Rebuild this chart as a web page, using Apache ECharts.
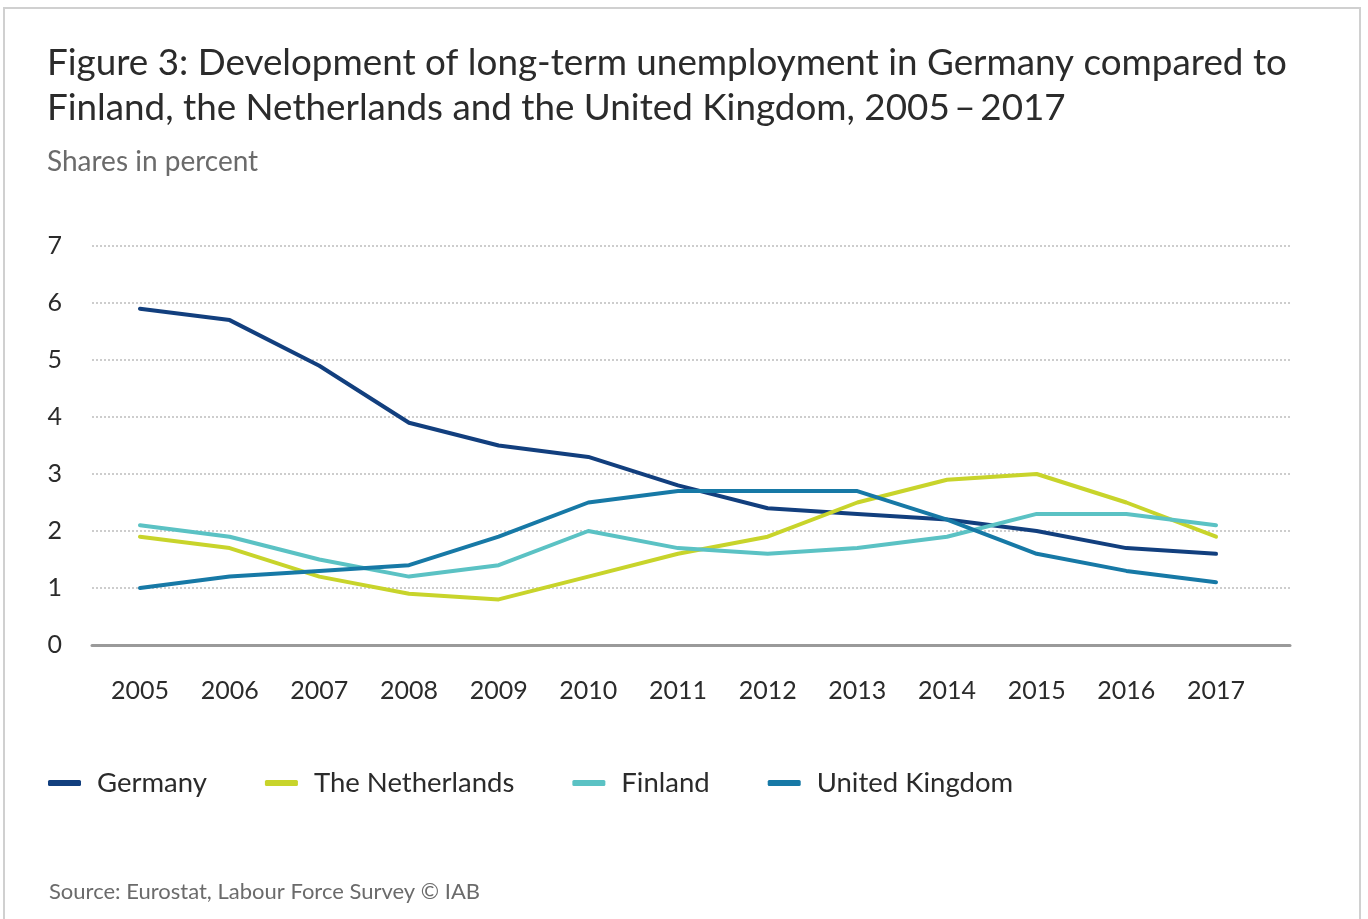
<!DOCTYPE html>
<html>
<head>
<meta charset="utf-8">
<script src="https://cdn.jsdelivr.net/npm/echarts@6/dist/echarts.min.js"></script>
<style>
  html, body { margin: 0; padding: 0; background: #fff; }
  #frame { position: absolute; left: 3px; top: 7px; width: 1358px; height: 930px; border: 2px solid #d0d0d0; box-sizing: border-box; }
  #chart { position: absolute; left: 0; top: 0; width: 1368px; height: 919px; }
</style>
</head>
<body>
<div id="frame"></div>
<div id="chart"></div>
<script>
// years on the x axis
var years = [2005, 2006, 2007, 2008, 2009, 2010, 2011, 2012, 2013, 2014, 2015, 2016, 2017];
// long-term unemployment, share in percent
var germany     = [5.9, 5.7, 4.9, 3.9, 3.5, 3.3, 2.8, 2.4, 2.3, 2.2, 2.0, 1.7, 1.6];
var netherlands = [1.9, 1.7, 1.2, 0.9, 0.8, 1.2, 1.6, 1.9, 2.5, 2.9, 3.0, 2.5, 1.9];
var finland     = [2.1, 1.9, 1.5, 1.2, 1.4, 2.0, 1.7, 1.6, 1.7, 1.9, 2.3, 2.3, 2.1];
var uk          = [1.0, 1.2, 1.3, 1.4, 1.9, 2.5, 2.7, 2.7, 2.7, 2.2, 1.6, 1.3, 1.1];
var yTicks = [0, 1, 2, 3, 4, 5, 6, 7];

var font = 'Lato, "Open Sans", sans-serif';

function pairs(vals) {
    return years.map(function (y, i) { return [y, vals[i]]; });
}

function line(name, vals, color) {
    return {
        name: name,
        type: 'line',
        data: pairs(vals),
        showSymbol: false,
        symbol: 'none',
        lineStyle: { color: color, width: 4, cap: 'round', join: 'round' },
        itemStyle: { color: color },
        emphasis: { disabled: true }
    };
}

var chart = echarts.init(document.getElementById('chart'));
chart.setOption({
    animation: false,
    title: [
        {
            text: 'Figure 3: Development of long-term unemployment in Germany compared to\nFinland, the Netherlands and the United Kingdom, 2005\u2009\u2013\u20092017',
            left: 42, top: 36,
            textStyle: { fontFamily: font, fontSize: 36.8, fontWeight: 'normal', color: '#2b2b2b', lineHeight: 45 }
        },
        {
            text: 'Shares in percent',
            left: 42, top: 143,
            textStyle: { fontFamily: font, fontSize: 28, fontWeight: 'normal', color: '#6b6b6b' }
        },
        {
            text: 'Source: Eurostat, Labour Force Survey \u00a9 IAB',
            left: 44, top: 876,
            textStyle: { fontFamily: font, fontSize: 22, fontWeight: 'normal', color: '#6b6b6b' }
        }
    ],
    legend: {
        left: 43, top: 764,
        icon: 'roundRect',
        itemWidth: 33, itemHeight: 6,
        itemGap: 58,
        textStyle: { fontFamily: font, fontSize: 27.5, color: '#2b2b2b', padding: [0, 0, 0, 11] },
        data: ['Germany', 'The Netherlands', 'Finland', 'United Kingdom']
    },
    grid: { left: 92, right: 78, top: 246, bottom: 274 },
    xAxis: {
        type: 'value',
        min: 2004.465,
        max: 2017.825,
        axisLine: { show: true, lineStyle: { color: '#9a9a9a', width: 3 } },
        axisTick: { show: false },
        splitLine: { show: false },
        axisLabel: {
            customValues: years,
            margin: 33,
            fontFamily: font, fontSize: 25, color: '#2b2b2b',
            formatter: function (v) { return String(v); }
        }
    },
    yAxis: {
        type: 'value',
        min: 0, max: 7, interval: 1,
        axisLine: { show: false },
        axisTick: { show: false },
        splitLine: { lineStyle: { color: '#bdbdbd', type: [2, 2], width: 1.5 } },
        axisLabel: {
            customValues: yTicks,
            margin: 30,
            fontFamily: font, fontSize: 25, color: '#2b2b2b'
        }
    },
    series: [
        line('Germany', germany, '#123f7e'),
        line('The Netherlands', netherlands, '#c8d42b'),
        line('Finland', finland, '#5bc2c4'),
        line('United Kingdom', uk, '#1779a6')
    ]
});
</script>
</body>
</html>
